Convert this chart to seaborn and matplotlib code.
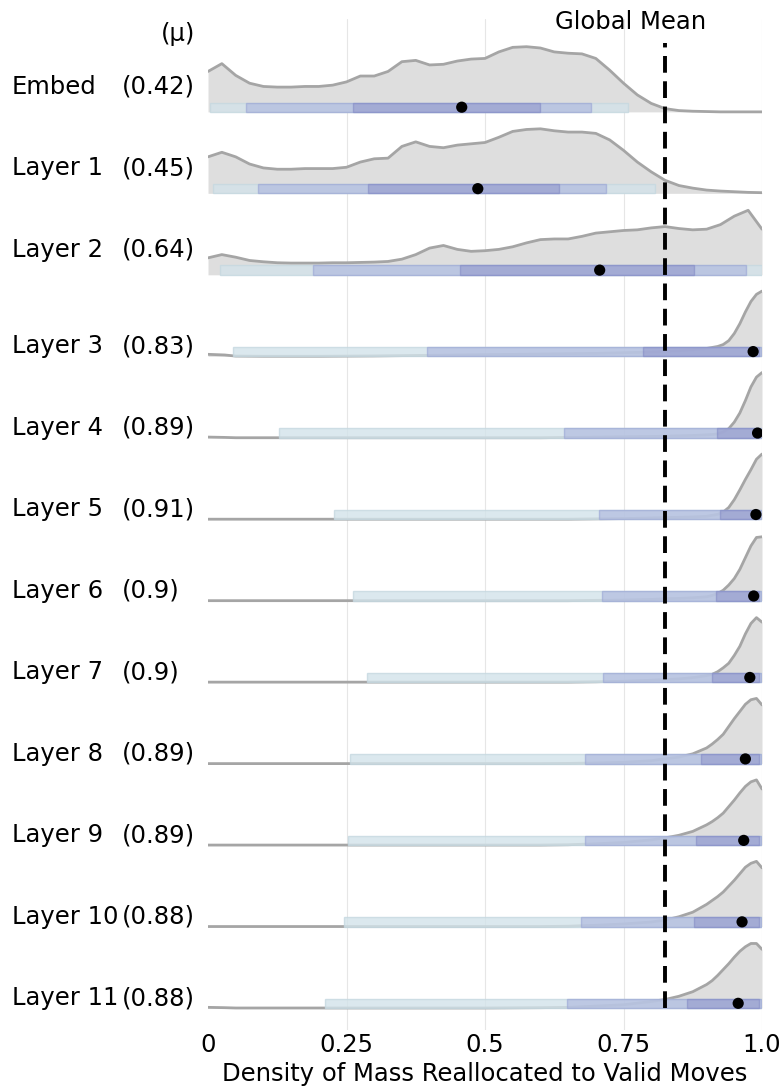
import numpy as np
import pandas as pd
import matplotlib
matplotlib.use("Agg")
import matplotlib.pyplot as plt
import seaborn as sns

# layer names and their means (shown in the left column)
layers = ["Embed", "Layer 1", "Layer 2", "Layer 3", "Layer 4", "Layer 5",
          "Layer 6", "Layer 7", "Layer 8", "Layer 9", "Layer 10", "Layer 11"]
means = ["0.42", "0.45", "0.64", "0.83", "0.89", "0.91",
         "0.9", "0.9", "0.89", "0.89", "0.88", "0.88"]
global_mean = 0.825

# interval bands: widest, middle, narrowest
light_lo = [0.004, 0.009, 0.021, 0.045, 0.128, 0.228, 0.261, 0.287, 0.256, 0.252, 0.246, 0.211]
light_hi = [0.759, 0.807, 1.0, 1.0, 1.0, 1.0, 1.0, 1.0, 1.0, 1.0, 1.0, 1.0]
mid_lo = [0.069, 0.091, 0.190, 0.395, 0.643, 0.705, 0.712, 0.713, 0.681, 0.681, 0.673, 0.648]
mid_hi = [0.692, 0.719, 0.972, 0.998, 0.998, 0.998, 0.998, 0.998, 0.998, 0.998, 0.998, 0.998]
dark_lo = [0.262, 0.289, 0.455, 0.786, 0.918, 0.925, 0.917, 0.910, 0.889, 0.881, 0.877, 0.865]
dark_hi = [0.600, 0.633, 0.878, 0.995, 0.995, 0.995, 0.995, 0.995, 0.995, 0.995, 0.995, 0.995]
medians = [0.458, 0.487, 0.707, 0.984, 0.992, 0.989, 0.985, 0.978, 0.970, 0.967, 0.964, 0.957]

# density curves, relative height (peak = 1)
x_wide = [0.0, 0.025, 0.05, 0.075, 0.1, 0.125, 0.15, 0.175, 0.2, 0.225, 0.25, 0.275,
          0.3, 0.325, 0.35, 0.375, 0.4, 0.425, 0.45, 0.475, 0.5, 0.525, 0.55, 0.575,
          0.6, 0.625, 0.65, 0.675, 0.7, 0.725, 0.75, 0.775, 0.8, 0.825, 0.85, 0.875,
          0.9, 0.925, 0.95, 0.975, 1.0]
dens_embed = [0.62, 0.74, 0.56, 0.44, 0.39, 0.38, 0.38, 0.39, 0.39, 0.41, 0.46, 0.55,
              0.55, 0.62, 0.77, 0.79, 0.72, 0.73, 0.78, 0.81, 0.82, 0.92, 0.99, 1.0,
              0.98, 0.92, 0.90, 0.89, 0.82, 0.64, 0.44, 0.26, 0.13, 0.05, 0.02, 0.01,
              0.005, 0.0, 0.0, 0.0, 0.0]
dens_l1 = [0.56, 0.63, 0.56, 0.45, 0.39, 0.37, 0.37, 0.38, 0.38, 0.38, 0.40, 0.48,
           0.53, 0.54, 0.72, 0.79, 0.72, 0.70, 0.74, 0.76, 0.78, 0.86, 0.95, 0.98,
           0.99, 0.96, 0.94, 0.94, 0.92, 0.82, 0.66, 0.48, 0.33, 0.20, 0.12, 0.08,
           0.05, 0.035, 0.025, 0.015, 0.01]
dens_l2 = [0.26, 0.31, 0.27, 0.22, 0.20, 0.185, 0.18, 0.18, 0.18, 0.185, 0.185, 0.19,
           0.195, 0.205, 0.24, 0.31, 0.41, 0.45, 0.39, 0.36, 0.37, 0.39, 0.43, 0.49,
           0.54, 0.55, 0.55, 0.59, 0.64, 0.66, 0.68, 0.69, 0.72, 0.74, 0.71, 0.69,
           0.70, 0.77, 0.90, 0.99, 0.70]

x_peak = [0.0, 0.03, 0.05, 0.1, 0.2, 0.3, 0.4, 0.5, 0.6, 0.65, 0.7, 0.75, 0.8, 0.825,
          0.85, 0.875, 0.9, 0.91, 0.92, 0.93, 0.94, 0.95, 0.96, 0.97, 0.98, 0.99, 1.0]
dens_l3 = [0.03, 0.02, 0.003, 0.0, 0.0, 0.005, 0.015, 0.025, 0.035, 0.04, 0.045, 0.055, 0.065, 0.075,
           0.085, 0.1, 0.12, 0.135, 0.15, 0.18, 0.24, 0.35, 0.5, 0.68, 0.84, 0.95, 1.0]
dens_l4 = [0.01, 0.005, 0.0, 0.0, 0.0, 0.0, 0.0, 0.0, 0.0, 0.005, 0.01, 0.015, 0.02, 0.025,
           0.03, 0.035, 0.045, 0.05, 0.06, 0.09, 0.14, 0.24, 0.38, 0.57, 0.78, 0.93, 1.0]
dens_l5 = [0.0, 0.0, 0.0, 0.0, 0.0, 0.0, 0.0, 0.0, 0.0, 0.0, 0.005, 0.01, 0.02, 0.025,
           0.03, 0.035, 0.045, 0.06, 0.075, 0.11, 0.18, 0.3, 0.45, 0.61, 0.76, 0.92, 1.0]
dens_l6 = [0.0, 0.0, 0.0, 0.0, 0.0, 0.0, 0.0, 0.0, 0.0, 0.0, 0.005, 0.01, 0.02, 0.03,
           0.035, 0.045, 0.06, 0.08, 0.11, 0.16, 0.24, 0.34, 0.48, 0.66, 0.84, 0.97, 0.98]
dens_l7 = [0.0, 0.0, 0.0, 0.0, 0.0, 0.0, 0.0, 0.0, 0.0, 0.0, 0.005, 0.015, 0.03, 0.04,
           0.05, 0.07, 0.1, 0.12, 0.16, 0.22, 0.29, 0.41, 0.55, 0.74, 0.9, 0.99, 0.92]
dens_l8 = [0.0, 0.0, 0.0, 0.0, 0.0, 0.0, 0.0, 0.0, 0.0, 0.003, 0.01, 0.02, 0.045, 0.075,
           0.1, 0.15, 0.24, 0.3, 0.37, 0.45, 0.57, 0.69, 0.8, 0.91, 0.98, 1.0, 0.9]
dens_l9 = [0.0, 0.0, 0.0, 0.0, 0.0, 0.0, 0.0, 0.0, 0.0, 0.005, 0.02, 0.04, 0.08, 0.11,
           0.15, 0.21, 0.31, 0.36, 0.42, 0.49, 0.59, 0.69, 0.8, 0.9, 0.97, 1.0, 0.86]
dens_l10 = [0.0, 0.0, 0.0, 0.0, 0.0, 0.0, 0.0, 0.0, 0.0, 0.005, 0.02, 0.04, 0.07, 0.1,
            0.15, 0.22, 0.34, 0.4, 0.46, 0.53, 0.62, 0.71, 0.81, 0.91, 0.97, 1.0, 0.9]
dens_l11 = [0.01, 0.005, 0.0, 0.0, 0.0, 0.0, 0.0, 0.0, 0.005, 0.01, 0.03, 0.05, 0.1, 0.13,
            0.18, 0.25, 0.36, 0.42, 0.5, 0.59, 0.68, 0.78, 0.87, 0.94, 0.99, 0.99, 0.9]

curves = [(x_wide, dens_embed), (x_wide, dens_l1), (x_wide, dens_l2),
          (x_peak, dens_l3), (x_peak, dens_l4), (x_peak, dens_l5), (x_peak, dens_l6),
          (x_peak, dens_l7), (x_peak, dens_l8), (x_peak, dens_l9), (x_peak, dens_l10),
          (x_peak, dens_l11)]

sns.set_theme(style="whitegrid")
plt.rcParams["font.family"] = ["DejaVu Sans"]
plt.rcParams["text.color"] = "black"
plt.rcParams["xtick.color"] = "black"
plt.rcParams["axes.labelcolor"] = "black"

fig = plt.figure(figsize=(7.83, 10.88), dpi=100)
ax = fig.add_axes([208 / 783, 58 / 1088, 554 / 783, 1011 / 1088])

n = len(layers)
row_h = 0.8      # peak height in row units
bar_h = 0.115
light_c, mid_c, dark_c = "#d3e3ea", "#aab4dd", "#9095cb"

for i, name in enumerate(layers):
    base = n - 1 - i
    xs, ds = curves[i]
    df = pd.DataFrame({"x": xs, "y": base + np.array(ds) * row_h})
    ax.fill_between(df["x"], base, df["y"], color="#dedede", lw=0, zorder=2)
    sns.lineplot(data=df, x="x", y="y", ax=ax, color="#a5a5a5", lw=2,
                 estimator=None, sort=False, zorder=3)

    yb = base + bar_h / 2
    ax.barh(yb, light_hi[i] - light_lo[i], left=light_lo[i], height=bar_h,
            color=light_c, alpha=0.8, edgecolor="#c5d8e0", lw=1, zorder=4)
    ax.barh(yb, mid_hi[i] - mid_lo[i], left=mid_lo[i], height=bar_h,
            color=mid_c, alpha=0.6, edgecolor="#98a3d4", lw=1, zorder=5)
    ax.barh(yb, dark_hi[i] - dark_lo[i], left=dark_lo[i], height=bar_h,
            color=dark_c, alpha=0.55, edgecolor="#8088c4", lw=1, zorder=6)

    off = 0.31 if i < 3 else 0.12
    tr = ax.get_yaxis_transform()
    ax.text(-0.354, base + off, name, transform=tr, fontsize=17.5,
            ha="left", va="center")
    ax.text(-0.155, base + off, f"({means[i]})", transform=tr, fontsize=17.5,
            ha="left", va="center")

sns.scatterplot(x=medians, y=[n - 1 - i + bar_h / 2 for i in range(n)], ax=ax,
                color="black", s=65, edgecolor="none", zorder=8)

ax.vlines(global_mean, 0, 11.85, colors="black", lw=2.8,
          linestyles=(0, (4.3, 2.2)), zorder=7)
ax.text(0.762, 12.1, "Global Mean", fontsize=17.5, ha="center", va="center")
ax.text(-0.023, 11.95, "(μ)", transform=ax.get_yaxis_transform(),
        fontsize=17.5, ha="right", va="center")

ax.set_xlim(0, 1.0)
ax.set_ylim(-0.27, 12.14)
ax.set_xticks([0, 0.25, 0.5, 0.75, 1.0])
ax.set_xticklabels(["0", "0.25", "0.5", "0.75", "1.0"], fontsize=17.5)
ax.set_yticks([])
ax.tick_params(axis="x", length=0, pad=2)
ax.grid(axis="x", color="#e6e6e6", lw=0.8)
ax.grid(axis="y", visible=False)
ax.xaxis.get_gridlines()[0].set_visible(False)
for s in ax.spines.values():
    s.set_visible(False)
ax.set_xlabel("Density of Mass Reallocated to Valid Moves", fontsize=17.5, labelpad=4)
ax.set_ylabel("")

fig.savefig("out.png", dpi=100)
